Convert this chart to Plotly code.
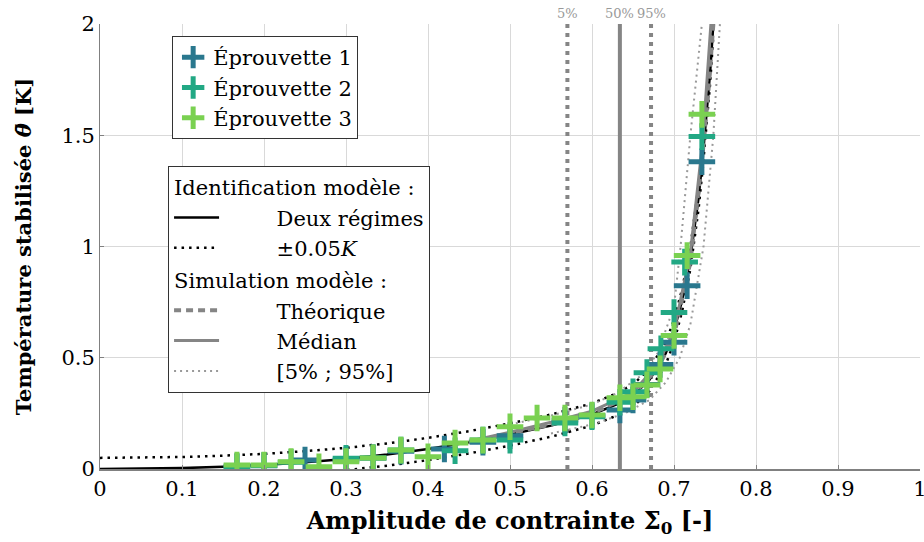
import plotly.graph_objects as go

# data
# Eprouvettes (measured points)
sig_e1 = [0.167, 0.2, 0.25, 0.3, 0.333, 0.367, 0.42, 0.467, 0.5, 0.567, 0.6, 0.634, 0.65, 0.667, 0.683, 0.70, 0.716, 0.734]
th_e1 = [0.012, 0.015, 0.04, 0.04, 0.05, 0.08, 0.09, 0.12, 0.15, 0.22, 0.24, 0.265, 0.31, 0.38, 0.47, 0.57, 0.824, 1.381]

sig_e2 = [0.167, 0.2, 0.233, 0.3, 0.333, 0.367, 0.433, 0.467, 0.5, 0.567, 0.6, 0.634, 0.65, 0.667, 0.684, 0.70, 0.713, 0.734]
th_e2 = [0.008, 0.016, 0.03, 0.048, 0.05, 0.085, 0.082, 0.13, 0.13, 0.207, 0.235, 0.30, 0.347, 0.433, 0.54, 0.703, 0.93, 1.494]

sig_e3 = [0.167, 0.2, 0.233, 0.267, 0.3, 0.333, 0.367, 0.4, 0.433, 0.467, 0.5, 0.533, 0.567, 0.6, 0.634, 0.65, 0.667, 0.683, 0.70, 0.716, 0.734]
th_e3 = [0.018, 0.018, 0.033, 0.01, 0.033, 0.05, 0.085, 0.055, 0.117, 0.13, 0.19, 0.229, 0.229, 0.243, 0.32, 0.325, 0.378, 0.45, 0.60, 0.959, 1.594]

# modele deux regimes (identification)
sig_mod = [0, 0.1, 0.15, 0.2, 0.25, 0.3, 0.35, 0.4, 0.45, 0.5, 0.55, 0.6, 0.63, 0.65, 0.67,
           0.69, 0.70, 0.71, 0.72, 0.725, 0.73, 0.735, 0.74, 0.744, 0.748]
th_mod = [0, 0.004, 0.01, 0.018, 0.03, 0.045, 0.065, 0.09, 0.12, 0.155, 0.195, 0.245, 0.29, 0.33, 0.40,
          0.52, 0.62, 0.76, 0.95, 1.08, 1.22, 1.4, 1.6, 1.78, 2.0]
tol = 0.05

# simulation modele
sig_theo = [0.45, 0.5, 0.55, 0.6, 0.65, 0.68, 0.70, 0.72, 0.735, 0.742, 0.748]
th_theo = [0.12, 0.16, 0.2, 0.25, 0.335, 0.45, 0.6, 0.93, 1.42, 1.7, 2.0]

sig_med = [0.45, 0.5, 0.55, 0.6, 0.65, 0.68, 0.70, 0.72, 0.735, 0.745]
th_med = [0.125, 0.165, 0.21, 0.26, 0.345, 0.47, 0.62, 0.97, 1.47, 2.0]

sig_q05 = [0.5, 0.55, 0.6, 0.63, 0.66, 0.68, 0.70, 0.708, 0.72, 0.734]
th_q05 = [0.2, 0.24, 0.29, 0.34, 0.42, 0.52, 0.73, 1.0, 1.5, 2.0]
sig_q95 = [0.55, 0.6, 0.64, 0.67, 0.69, 0.707, 0.72, 0.736, 0.748, 0.756]
th_q95 = [0.16, 0.2, 0.25, 0.31, 0.39, 0.5, 0.65, 1.0, 1.5, 2.0]

# quantiles de contrainte
q_labels = ["5%", "50%", "95%"]
q_values = [0.57, 0.634, 0.672]

c1, c2, c3 = "#2a788e", "#22a884", "#7ad151"
gray = "#858585"
font = "'DejaVu Serif', serif"
pad = "\u2003\u2003\u2002"  # pushes the text of legend2 entries to the right

fig = go.Figure()

# vertical quantile lines
for lab, v in zip(q_labels, q_values):
    if lab == "50%":
        ln = dict(color=gray, width=4)
    else:
        ln = dict(color=gray, width=4, dash="4px,5px")
    fig.add_trace(go.Scatter(x=[v, v], y=[0, 2], mode="lines", line=ln,
                             showlegend=False, hoverinfo="skip"))
    fig.add_annotation(x=v, y=1, yref="paper", text=lab, showarrow=False,
                       yanchor="bottom", yshift=1, font=dict(size=13, color="#999999"))

# identification (drawn under the simulation curves)
upper = [t + tol for t in th_mod]
lower = [t - tol for t in th_mod]
fig.add_trace(go.Scatter(x=sig_mod, y=th_mod, mode="lines", name=pad + "Deux régimes",
                         line=dict(color="black", width=2.5),
                         legend="legend2", legendgroup="id",
                         legendgrouptitle=dict(text="Identification modèle :")))
fig.add_trace(go.Scatter(x=sig_mod + [None] + sig_mod, y=upper + [None] + lower,
                         mode="lines", name=pad + "±0.05<i>K</i>",
                         line=dict(color="black", width=2.5, dash="2.5px,5px"),
                         legend="legend2", legendgroup="id"))

# simulation curves
fig.add_trace(go.Scatter(x=sig_theo, y=th_theo, mode="lines", name=pad + "Théorique",
                         line=dict(color=gray, width=4, dash="7px,5px"),
                         legend="legend2", legendgroup="sim",
                         legendgrouptitle=dict(text="Simulation modèle :")))
fig.add_trace(go.Scatter(x=sig_med, y=th_med, mode="lines", name=pad + "Médian",
                         line=dict(color=gray, width=3),
                         legend="legend2", legendgroup="sim"))
fig.add_trace(go.Scatter(x=sig_q05 + [None] + sig_q95, y=th_q05 + [None] + th_q95,
                         mode="lines", name=pad + "[5% ; 95%]",
                         line=dict(color="#999999", width=2, dash="2px,4px"),
                         legend="legend2", legendgroup="sim"))

# measured points
for name, sx, ty, col in [("Éprouvette 1", sig_e1, th_e1, c1),
                          ("Éprouvette 2", sig_e2, th_e2, c2),
                          ("Éprouvette 3", sig_e3, th_e3, c3)]:
    fig.add_trace(go.Scatter(x=sx, y=ty, mode="markers", name=name,
                             marker=dict(symbol="cross-thin", size=19,
                                         line=dict(color=col, width=5)),
                             legend="legend"))

fig.update_layout(
    width=924, height=542,
    margin=dict(l=100, r=4, t=24, b=73),
    plot_bgcolor="white", paper_bgcolor="white",
    font=dict(family=font, size=21, color="black"),
    legend=dict(x=0.088, y=0.973, xanchor="left", yanchor="top",
                bordercolor="#333333", borderwidth=1, bgcolor="white",
                font=dict(size=21), tracegroupgap=0),
    legend2=dict(x=0.083, y=0.681, xanchor="left", yanchor="top",
                 bordercolor="#333333", borderwidth=1, bgcolor="white",
                 font=dict(size=21), itemwidth=45, tracegroupgap=2,
                 traceorder="grouped", grouptitlefont=dict(size=21)),
)
fig.update_xaxes(range=[0, 1], dtick=0.1, showgrid=True, gridcolor="#d9d9d9",
                 showline=True, linecolor="#808080", linewidth=2, zeroline=False,
                 ticks="inside", ticklen=4, tickcolor="#808080",
                 ticklabeloverflow="allow", automargin=False,
                 title=dict(text="<b>Amplitude de contrainte Σ<sub>0</sub> [-]</b>", font=dict(size=24), standoff=12))
fig.update_yaxes(range=[0, 2], dtick=0.5, showgrid=True, gridcolor="#d9d9d9",
                 showline=True, linecolor="#808080", linewidth=1, zeroline=False,
                 ticks="inside", ticklen=4, tickcolor="#808080", automargin=False,
                 title=dict(text="<b>Température stabilisée <i>θ̄</i>\u00a0[K]</b>", font=dict(size=21), standoff=24))

# no body margin so the 924x542 figure fills the window exactly
fig.write_html("out.html", config={"displayModeBar": False},
               post_script="document.body.style.margin='0px';")
